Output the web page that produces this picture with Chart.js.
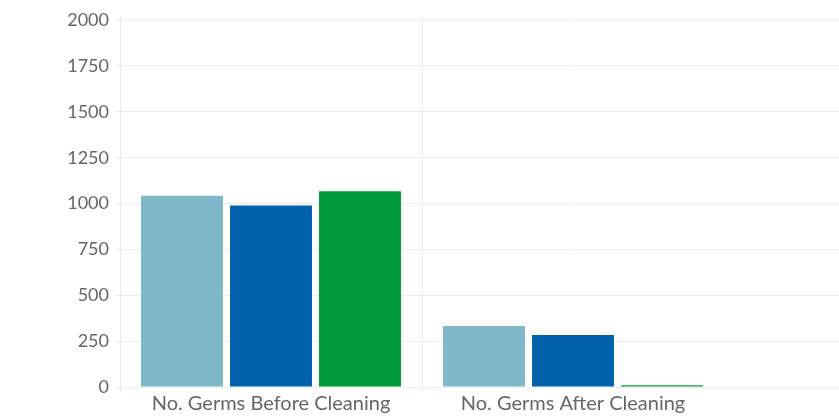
<!DOCTYPE html>
<html>
<head>
<meta charset="utf-8">
<script src="https://cdn.jsdelivr.net/npm/chart.js@4/dist/chart.umd.min.js"></script>
<style>
html,body{margin:0;padding:0;overflow:hidden;background:#fff;}
#wrap{position:relative;width:1026px;height:419px;}
</style>
</head>
<body>
<div id="wrap"><canvas id="c"></canvas></div>
<script>
const categories = ["No. Germs Before Cleaning", "No. Germs After Cleaning", ""];
const seriesNames = ["Series 1", "Series 2", "Series 3"];
const series1 = [1043, 333, null];
const series2 = [989, 284, null];
const series3 = [1067, 10, null];
const yTicks = [0, 250, 500, 750, 1000, 1250, 1500, 1750, 2000];
const yMin = 0, yMax = 2018;

const colors = ["#7fb8c8", "#0062aa", "#009a3d"];
const gridCol = "#ececec";
const fam = "Lato, 'Open Sans', sans-serif";

new Chart(document.getElementById('c'), {
  type: 'bar',
  data: {
    labels: categories,
    datasets: [series1, series2, series3].map((d, i) => ({
      label: seriesNames[i],
      data: d,
      backgroundColor: colors[i],
      borderWidth: 0,
      categoryPercentage: 0.884,
      barPercentage: 0.921
    }))
  },
  options: {
    responsive: true,
    maintainAspectRatio: false,
    animation: false,
    layout: { padding: { top: 15, right: 0, left: 0, bottom: 0 } },
    plugins: { legend: { display: false }, tooltip: { enabled: false } },
    scales: {
      x: {
        grid: {
          color: ctx => (ctx.index === 0 || ctx.index === 1) ? gridCol : 'rgba(0,0,0,0)',
          tickLength: 5,
          offset: true
        },
        border: { color: gridCol },
        ticks: { color: '#666', font: { family: fam, size: 20 }, padding: 0, maxRotation: 0, autoSkip: false },
        afterFit: s => { s.height = 32; }
      },
      y: {
        min: yMin,
        max: yMax,
        grid: { color: gridCol, tickLength: 5 },
        border: { color: gridCol },
        afterBuildTicks: s => { s.ticks = yTicks.map(v => ({ value: v })); },
        ticks: { color: '#666', font: { family: fam, size: 18 }, padding: 6, callback: v => String(v) },
        afterFit: s => { s.width = 120; }
      }
    }
  }
});
</script>
</body>
</html>
